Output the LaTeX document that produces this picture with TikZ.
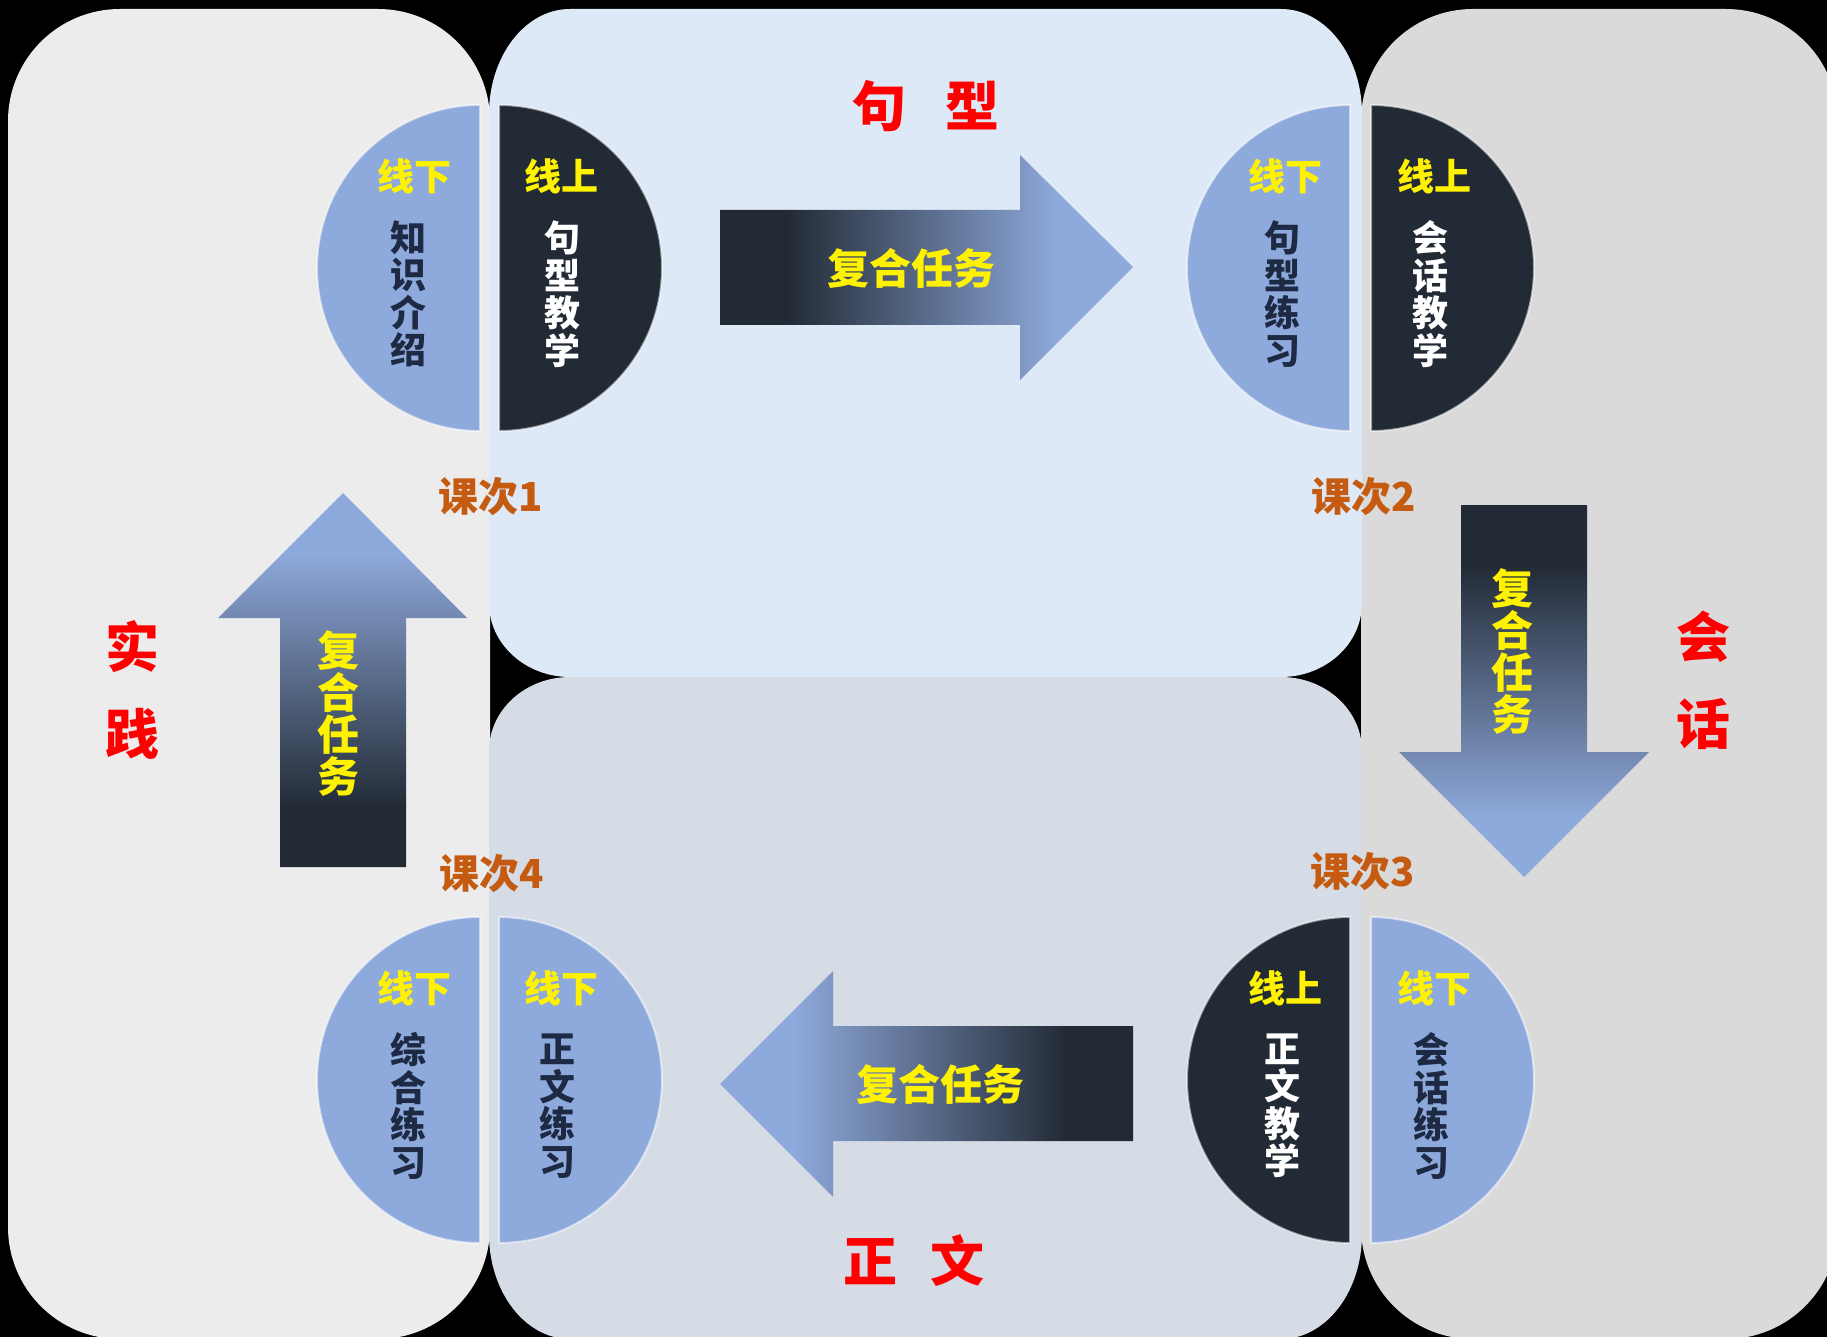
\documentclass[tikz,border=0pt]{standalone}
\usepackage{fontspec}
\newfontfamily\cjk{Noto Sans CJK SC}
\definecolor{dkc}{RGB}{34,42,53}
\definecolor{lbc}{RGB}{142,169,219}
\definecolor{navyc}{RGB}{30,42,68}
\definecolor{orc}{RGB}{197,90,17}
\definecolor{leftbg}{RGB}{236,236,236}
\definecolor{topbg}{RGB}{221,233,246}
\definecolor{botbg}{RGB}{214,220,230}
\definecolor{rightbg}{RGB}{218,218,218}
\pgfdeclarehorizontalshading{hsh}{100bp}{color(0bp)=(dkc); color(33bp)=(dkc); color(66bp)=(lbc); color(100bp)=(lbc)}
\pgfdeclareverticalshading{vsh}{100bp}{color(0bp)=(lbc); color(33bp)=(lbc); color(67bp)=(dkc); color(100bp)=(dkc)}
\tikzset{
  hb/.style={fill=lbc, draw=white, draw opacity=0.55, line width=1pt},
  hd/.style={fill=dkc, draw=white, draw opacity=0.55, line width=1pt},
  tagy/.style={inner sep=0pt, text=yellow, font=\cjk\bfseries\fontsize{18.5pt}{18.5pt}\selectfont},
  vn/.style={inner sep=0pt, align=center, text=navyc, font=\cjk\bfseries\fontsize{18pt}{18.75pt}\selectfont},
  vw/.style={vn, text=white},
  kc/.style={inner sep=0pt, text=orc, font=\cjk\bfseries\fontsize{20pt}{20pt}\selectfont},
  redl/.style={inner sep=0pt, align=center, text=red, font=\cjk\bfseries\fontsize{27pt}{43.5pt}\selectfont},
  task/.style={inner sep=0pt, align=center, text=yellow, font=\cjk\bfseries\fontsize{21pt}{21pt}\selectfont}
}
\begin{document}
\begin{tikzpicture}[x=0.5pt, y=-0.5pt]
\useasboundingbox (0,0) rectangle (1827,1337);
\fill[black] (0,0) rectangle (1827,1337);
\begin{scope}
\clip (0,0) rectangle (1827,1337);
\fill[leftbg, rounded corners=56pt] (8,9) rectangle (490,1339);
\fill[rightbg, rounded corners=56pt] (1361,9) rectangle (1838,1339);
\fill[topbg] (489,114) .. controls (489,56) and (525.3,9) .. (570,9)
  -- (1281,9) .. controls (1325.7,9) and (1362,56) .. (1362,114)
  -- (1362,603) .. controls (1362,643.9) and (1325.7,677) .. (1281,677)
  -- (570,677) .. controls (525.3,677) and (489,643.9) .. (489,603) -- cycle;
\fill[botbg] (489,751) .. controls (489,710.1) and (525.3,677) .. (570,677)
  -- (1281,677) .. controls (1325.7,677) and (1362,710.1) .. (1362,751)
  -- (1362,1234) .. controls (1362,1292) and (1325.7,1339) .. (1281,1339)
  -- (570,1339) .. controls (525.3,1339) and (489,1292) .. (489,1234) -- cycle;
\end{scope}

% course 1
\path[hb] (480,105) arc[start angle=270, end angle=90, radius=163] -- cycle;
\path[hd] (499,105) arc[start angle=-90, end angle=90, radius=163] -- cycle;
% course 2
\path[hb] (1350,105) arc[start angle=270, end angle=90, radius=163] -- cycle;
\path[hd] (1371,105) arc[start angle=-90, end angle=90, radius=163] -- cycle;
% course 3
\path[hd] (1350,917) arc[start angle=270, end angle=90, radius=163] -- cycle;
\path[hb] (1371,917) arc[start angle=-90, end angle=90, radius=163] -- cycle;
% course 4
\path[hb] (480,917) arc[start angle=270, end angle=90, radius=163] -- cycle;
\path[hb] (499,917) arc[start angle=-90, end angle=90, radius=163] -- cycle;

% texts in halves
\node[tagy] (c1l) at (414,176) {线下};
\node[tagy] (c1r) at (561,176) {线上};
\node[vn] (c1lt) at (408,294) {知\\识\\介\\绍};
\node[vw] (c1rt) at (562,294) {句\\型\\教\\学};

\node[tagy] (c2l) at (1285,176) {线下};
\node[tagy] (c2r) at (1434,176) {线上};
\node[vn] (c2lt) at (1282,294) {句\\型\\练\\习};
\node[vw] (c2rt) at (1430,294) {会\\话\\教\\学};

\node[tagy] (c3l) at (1285,988) {线上};
\node[tagy] (c3r) at (1434,988) {线下};
\node[vw] (c3lt) at (1282,1106) {正\\文\\教\\学};
\node[vn] (c3rt) at (1431,1106) {会\\话\\练\\习};

\node[tagy] (c4l) at (414,988) {线下};
\node[tagy] (c4r) at (561,988) {线下};
\node[vn] (c4lt) at (408,1106) {综\\合\\练\\习};
\node[vn] (c4rt) at (557,1106) {正\\文\\练\\习};

% course labels
\node[kc] (k1) at (491,497) {课次1};
\node[kc] (k2) at (1364,497) {课次2};
\node[kc] (k3) at (1363,872) {课次3};
\node[kc] (k4) at (492,874) {课次4};

% block arrows
\shade[shading=hsh] (720,210) -- (1020,210) -- (1020,155) -- (1133,267) -- (1020,380) -- (1020,325) -- (720,325) -- cycle;
\shade[shading=vsh] (1461,505) -- (1587,505) -- (1587,752) -- (1649,752) -- (1524,877) -- (1399,752) -- (1461,752) -- cycle;
\shade[shading=hsh, shading angle=180] (1133,1026) -- (833,1026) -- (833,971) -- (720,1084) -- (833,1197) -- (833,1141) -- (1133,1141) -- cycle;
\shade[shading=vsh, shading angle=180] (280,867) -- (280,618) -- (218,618) -- (343,493) -- (467,618) -- (406,618) -- (406,867) -- cycle;

\node[task] (a1) at (911,268) {复合任务};
\node[task] (a2) at (1512,652) {复\\合\\任\\务};
\node[task] (a3) at (940,1084) {复合任务};
\node[task] (a4) at (338,714) {复\\合\\任\\务};

% red theme labels
\node[redl] (r1) at (926,106) {句\hspace{19.5pt}型};
\node[redl] (r2) at (1703,680) {会\\话};
\node[redl] (r3) at (914,1261) {正\hspace{16.5pt}文};
\node[redl] (r4) at (132,690) {实\\践};
\end{tikzpicture}
\end{document}
